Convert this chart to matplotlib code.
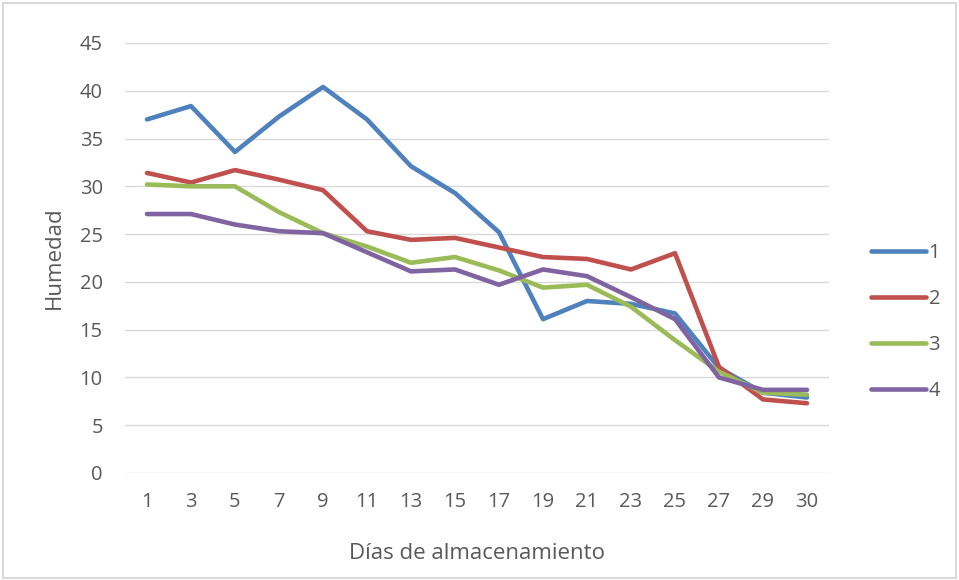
import numpy as np
import matplotlib.pyplot as plt
from matplotlib.patches import Rectangle

dias = ['1', '3', '5', '7', '9', '11', '13', '15', '17', '19', '21', '23', '25', '27', '29', '30']
s1 = [37.0, 38.4, 33.6, 37.3, 40.4, 37.0, 32.1, 29.3, 25.2, 16.1, 18.0, 17.7, 16.7, 11.0, 8.4, 7.9]
s2 = [31.4, 30.4, 31.7, 30.7, 29.6, 25.3, 24.4, 24.6, 23.6, 22.6, 22.4, 21.3, 23.0, 11.1, 7.7, 7.3]
s3 = [30.2, 30.0, 30.0, 27.3, 25.1, 23.7, 22.0, 22.6, 21.2, 19.4, 19.7, 17.4, 13.9, 10.6, 8.4, 8.2]
s4 = [27.1, 27.1, 26.0, 25.3, 25.1, 23.1, 21.1, 21.3, 19.7, 21.3, 20.6, 18.4, 16.1, 10.0, 8.7, 8.7]
nombres = ['1', '2', '3', '4']
colores = ['#4F81BD', '#C0504D', '#9BBB59', '#8064A2']

plt.rcParams['font.family'] = ['Open Sans', 'DejaVu Sans']
gris = '#595959'

fig = plt.figure(figsize=(9.59, 5.8), dpi=100)
ax = fig.add_axes([125/959, 1-473/580, 704/959, 430/580])

x = np.arange(len(dias))
for serie, nom, col in zip([s1, s2, s3, s4], nombres, colores):
    ax.plot(x, serie, color=col, linewidth=3.3, label=nom, solid_capstyle='round')

ax.set_xlim(-0.5, len(dias) - 0.5)
ax.set_ylim(0, 45)
ax.set_yticks(range(0, 46, 5))
ax.set_xticks(x)
ax.set_xticklabels(dias)
ax.grid(axis='y', color='#d9d9d9', linewidth=1)
ax.set_axisbelow(True)
for s in ax.spines.values():
    s.set_visible(False)
ax.tick_params(length=0, colors=gris, labelsize=14.5)
ax.tick_params(axis='y', pad=16)
ax.tick_params(axis='x', pad=14)

ax.set_ylabel('Humedad', color=gris, fontsize=16, labelpad=11)
ax.set_xlabel('Días de almacenamiento', color=gris, fontsize=16, labelpad=22)

fig.legend(loc='center left', bbox_to_anchor=(853/959, 1-322/580), frameon=False,
           fontsize=14.5, labelcolor=gris, handlelength=2.7, handletextpad=0.15,
           labelspacing=1.3)

fig.patches.append(Rectangle((0.003, 0.003), 0.994, 0.992, transform=fig.transFigure,
                             fill=False, edgecolor='#d9d9d9', linewidth=1.5))

plt.savefig('out.png', dpi=100)
